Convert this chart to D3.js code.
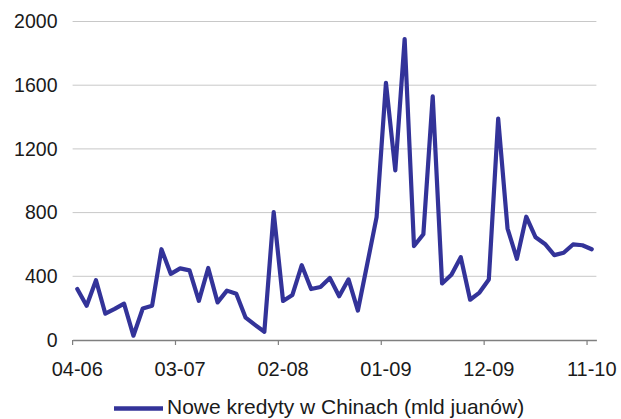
<!DOCTYPE html>
<html>
<head>
<meta charset="utf-8">
<script src="https://cdn.jsdelivr.net/npm/d3@7"></script>
<style>
  html, body { margin: 0; padding: 0; background: #fff; }
  svg { display: block; }
  text { font-family: "Liberation Sans", Arial, Helvetica, sans-serif; fill: #1a1a1a; }
</style>
</head>
<body>
<svg id="chart" width="621" height="419"></svg>
<script>
// Monthly categories, April 2006 – November 2010 (MM-YY)
const months = [
  "04-06","05-06","06-06","07-06","08-06","09-06","10-06","11-06","12-06",
  "01-07","02-07","03-07","04-07","05-07","06-07","07-07","08-07","09-07","10-07","11-07","12-07",
  "01-08","02-08","03-08","04-08","05-08","06-08","07-08","08-08","09-08","10-08","11-08","12-08",
  "01-09","02-09","03-09","04-09","05-09","06-09","07-09","08-09","09-09","10-09","11-09","12-09",
  "01-10","02-10","03-10","04-10","05-10","06-10","07-10","08-10","09-10","10-10","11-10"
];

// New loans in China, bn yuan
const newLoans = [
  320, 215, 375, 165, 195, 228, 27, 198, 215,
  570, 415, 450, 437, 246, 452, 236, 310, 290, 140, 95, 52,
  803, 245, 283, 470, 320, 333, 390, 275, 381, 185, 477, 772,
  1615, 1065, 1890, 590, 664, 1530, 355, 410, 520, 253, 298, 380,
  1390, 700, 510, 774, 645, 603, 533, 548, 600, 595, 570
];

const seriesName = "Nowe kredyty w Chinach (mld juanów)";
const yTicks = [0, 400, 800, 1200, 1600, 2000];
const xTickLabels = ["04-06", "03-07", "02-08", "01-09", "12-09", "11-10"];

const svg = d3.select("#chart");
const plot = { left: 72.6, right: 596.4, top: 21.5, bottom: 340 };

const x = d3.scaleBand().domain(months).range([plot.left, plot.right]).paddingInner(0).paddingOuter(0);
const y = d3.scaleLinear().domain([0, 2000]).range([plot.bottom, plot.top]);

// Horizontal gridlines
svg.append("g")
  .selectAll("line")
  .data(yTicks.filter(d => d > 0))
  .join("line")
  .attr("x1", plot.left).attr("x2", plot.right)
  .attr("y1", d => y(d)).attr("y2", d => y(d))
  .attr("stroke", "#c8c8c8").attr("stroke-width", 1);

// Value labels on the left
svg.append("g")
  .selectAll("text")
  .data(yTicks)
  .join("text")
  .attr("x", 57.5)
  .attr("y", d => y(d) + 6.8)
  .attr("text-anchor", "end")
  .style("font-size", "19.5px")
  .text(d => d);

// Category axis: ticks fall on category boundaries every 11 months
const xAxis = d3.axisBottom(x)
  .tickValues(xTickLabels)
  .tickSize(5)
  .tickSizeOuter(0)
  .tickFormat(d => d);
const ax = svg.append("g").attr("transform", `translate(0,${plot.bottom})`).call(xAxis);
ax.select(".domain").attr("stroke", "#7f7f7f").attr("stroke-width", 1.5);
ax.selectAll(".tick line")
  .attr("stroke", "#7f7f7f").attr("stroke-width", 1.2)
  .attr("x1", -x.bandwidth() / 2).attr("x2", -x.bandwidth() / 2);
ax.selectAll(".tick text")
  .attr("y", 36).attr("dy", null)
  .style("font-size", "20px")
  .style("font-family", "'Liberation Sans', Arial, sans-serif")
  .attr("fill", "#1a1a1a");
ax.selectAll(".tick").attr("transform", d => `translate(${x(d) + x.bandwidth() / 2},0)`);

// Series line
const line = d3.line()
  .x((d, i) => x(months[i]) + x.bandwidth() / 2)
  .y(d => y(d));
svg.append("path")
  .datum(newLoans)
  .attr("d", line)
  .attr("fill", "none")
  .attr("stroke", "#333399")
  .attr("stroke-width", 4.2)
  .attr("stroke-linejoin", "round")
  .attr("stroke-linecap", "round");

// Legend
const lg = svg.append("g");
lg.append("line")
  .attr("x1", 114).attr("x2", 163).attr("y1", 408.5).attr("y2", 408.5)
  .attr("stroke", "#333399").attr("stroke-width", 4.5);
lg.append("text")
  .attr("x", 167).attr("y", 414.3)
  .style("font-size", "21px")
  .text(seriesName);
</script>
</body>
</html>
